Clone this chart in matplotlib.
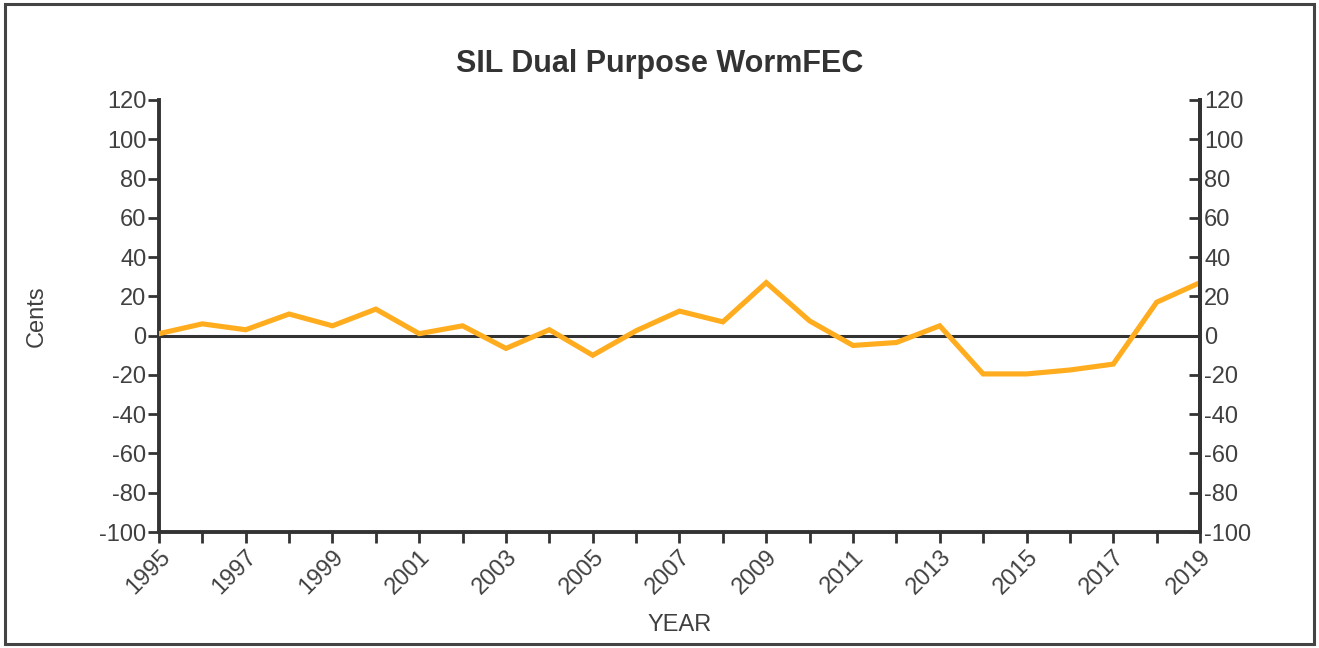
import matplotlib
matplotlib.use("Agg")
import matplotlib.pyplot as plt
from matplotlib.patches import Rectangle

plt.rcParams['font.family'] = ['Liberation Sans', 'DejaVu Sans']
plt.rcParams['axes.unicode_minus'] = False

years = list(range(1995, 2020))
cents = [1, 6, 3, 11, 5, 13.5, 1, 5, -6.5, 3, -10, 2.5, 12.5, 7, 27,
         7.5, -5, -3.5, 5, -19.5, -19.5, -17.5, -14.5, 17, 27]
yticks = list(range(-100, 121, 20))
year_labels = [str(y) if (y - 1995) % 2 == 0 else "" for y in years]

textColor = "#404040"
axisColor = "#333333"
lineColor = "#FFAD1F"

fig = plt.figure(figsize=(13.19, 6.48), dpi=100)
fig.patches.append(Rectangle((0.004, 0.006), 0.992, 0.988, transform=fig.transFigure,
                             fill=False, edgecolor="#444444", linewidth=2.2))

ax = fig.add_axes([0.1205, 0.179, 0.7893, 0.6667])
ax.plot(years, cents, color=lineColor, linewidth=3.7, solid_joinstyle="miter", zorder=3)
ax.axhline(0, color=axisColor, linewidth=2.2, zorder=2)

ax.set_xlim(1995, 2019)
ax.set_ylim(-100, 120)
ax.set_yticks(yticks)
ax.set_xticks(years)
ax.set_xticklabels(year_labels, rotation=45, ha="right", va="top",
                   rotation_mode="anchor", fontsize=17, color=textColor)

for side in ["left", "bottom", "right"]:
    ax.spines[side].set_linewidth(2.8)
    ax.spines[side].set_color(axisColor)
ax.spines["top"].set_visible(False)

ax.tick_params(axis="y", length=8, width=2, color=axisColor, labelsize=17,
               labelcolor=textColor, pad=1)
ax.tick_params(axis="x", length=8, width=2, color=axisColor, pad=2)

# right axis: same scale, ticks pointing inward
ax2 = ax.twinx()
ax2.set_ylim(-100, 120)
ax2.set_yticks(yticks)
for side in ["left", "bottom", "top"]:
    ax2.spines[side].set_visible(False)
ax2.spines["right"].set_linewidth(2.8)
ax2.spines["right"].set_color(axisColor)
ax2.tick_params(axis="y", direction="in", length=8, width=2, color=axisColor,
                labelsize=17, labelcolor=textColor, pad=3)

# title is centred on the whole figure, not the axes
fig.suptitle("SIL Dual Purpose WormFEC", x=0.5, y=0.889, va="baseline",
             fontsize=22, fontweight="bold", color="#333333")
ax.set_ylabel("Cents", fontsize=17, color=textColor)
ax.yaxis.set_label_coords(-0.107, 0.5)
ax.set_xlabel("YEAR", fontsize=17, color=textColor)
ax.xaxis.set_label_coords(0.5, -0.19)

fig.savefig("out.png", dpi=100)
